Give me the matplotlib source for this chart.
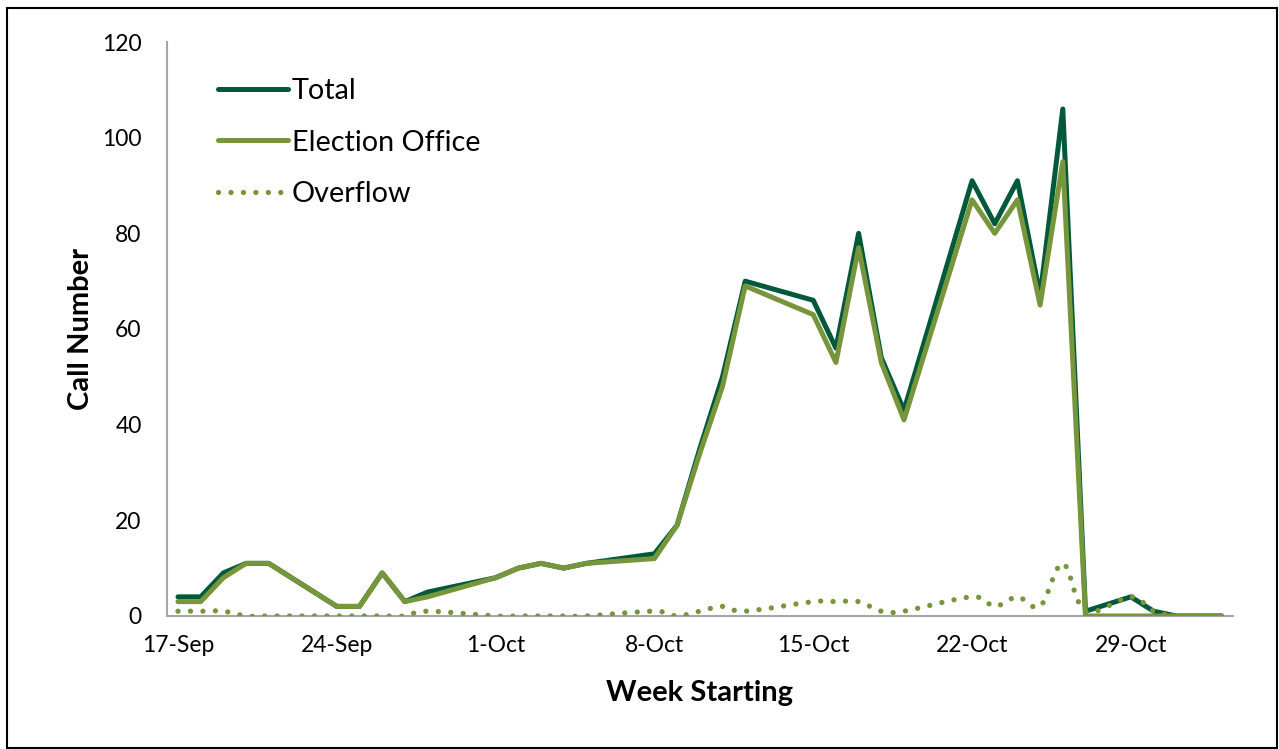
import numpy as np
import pandas as pd
import matplotlib
matplotlib.use("Agg")
import matplotlib.pyplot as plt
import matplotlib.dates as mdates
from matplotlib.path import Path
from matplotlib.patches import PathPatch, Rectangle
from matplotlib.lines import Line2D

# Daily call numbers (weekdays, plus 27-Oct)
dates = ["2018-09-17", "2018-09-18", "2018-09-19", "2018-09-20", "2018-09-21",
         "2018-09-24", "2018-09-25", "2018-09-26", "2018-09-27", "2018-09-28",
         "2018-10-01", "2018-10-02", "2018-10-03", "2018-10-04", "2018-10-05",
         "2018-10-08", "2018-10-09", "2018-10-10", "2018-10-11", "2018-10-12",
         "2018-10-15", "2018-10-16", "2018-10-17", "2018-10-18", "2018-10-19",
         "2018-10-22", "2018-10-23", "2018-10-24", "2018-10-25", "2018-10-26",
         "2018-10-27", "2018-10-29", "2018-10-30", "2018-10-31", "2018-11-01",
         "2018-11-02"]
total = [4, 4, 9, 11, 11,
         2, 2, 9, 3, 5,
         8, 10, 11, 10, 11,
         13, 19, 35, 50, 70,
         66, 56, 80, 54, 43,
         91, 82, 91, 67, 106,
         1, 4, 1, 0, 0,
         0]
election_office = [3, 3, 8, 11, 11,
                   2, 2, 9, 3, 4,
                   8, 10, 11, 10, 11,
                   12, 19, 34, 48, 69,
                   63, 53, 77, 53, 41,
                   87, 80, 87, 65, 95,
                   0, 0, 0, 0, 0,
                   0]
overflow = [1, 1, 1, 0, 0,
            0, 0, 0, 0, 1,
            0, 0, 0, 0, 0,
            1, 0, 1, 2, 1,
            3, 3, 3, 1, 1,
            4, 2, 4, 2, 11,
            1, 4, 1, 0, 0,
            0]
tick_dates = ["2018-09-17", "2018-09-24", "2018-10-01", "2018-10-08",
              "2018-10-15", "2018-10-22", "2018-10-29"]
tick_labels = ["17-Sep", "24-Sep", "1-Oct", "8-Oct", "15-Oct", "22-Oct", "29-Oct"]

dark_green = "#005A3A"
olive = "#77963C"
dots = (0, (0.01, 2.35))

plt.rcParams["font.family"] = ["Lato", "DejaVu Sans"]

fig = plt.figure(figsize=(12.79, 7.49), dpi=100)
ax = fig.add_axes([0.1303, 0.1776, 0.9640 - 0.1303, 0.9439 - 0.1776])

x = mdates.date2num(pd.to_datetime(dates))

ax.plot(x, total, color=dark_green, lw=3.6, solid_capstyle="round",
        solid_joinstyle="round", zorder=3)
ax.plot(x, election_office, color=olive, lw=3.6, solid_capstyle="round",
        solid_joinstyle="round", zorder=4)

# smoothed dotted line for overflow (Excel-style bezier smoothing)
y = np.array(overflow, dtype=float)
verts = [(x[0], y[0])]
codes = [Path.MOVETO]
n = len(x)
for i in range(n - 1):
    i0 = max(i - 1, 0)
    i3 = min(i + 2, n - 1)
    c1 = (x[i] + (x[i + 1] - x[i0]) / 6, y[i] + (y[i + 1] - y[i0]) / 6)
    c2 = (x[i + 1] - (x[i3] - x[i]) / 6, y[i + 1] - (y[i3] - y[i]) / 6)
    verts += [c1, c2, (x[i + 1], y[i + 1])]
    codes += [Path.CURVE4] * 3
patch = PathPatch(Path(verts, codes), fill=False, edgecolor=olive, lw=3.8,
                  linestyle=dots, capstyle="round", zorder=5)
ax.add_patch(patch)

x0 = mdates.date2num(pd.Timestamp("2018-09-17"))
ax.set_xlim(x0 - 0.5, x0 + 46.5)
ax.set_ylim(0, 120)
ax.set_yticks(range(0, 121, 20))
ax.set_xticks(mdates.date2num(pd.to_datetime(tick_dates)))
ax.set_xticklabels(tick_labels)
ax.tick_params(axis="both", length=0, labelsize=16.5, colors="black")
ax.tick_params(axis="x", pad=14)
ax.tick_params(axis="y", pad=18)

for side in ["top", "right"]:
    ax.spines[side].set_visible(False)
for side in ["left", "bottom"]:
    ax.spines[side].set_color("#A6A6A6")
    ax.spines[side].set_linewidth(1.5)

ax.set_xlabel("Week Starting", fontsize=21, fontweight="bold", labelpad=17)
ax.set_ylabel("Call Number", fontsize=21, fontweight="bold", labelpad=6)

handles = [Line2D([], [], color=dark_green, lw=3.6, solid_capstyle="round"),
           Line2D([], [], color=olive, lw=3.6, solid_capstyle="round"),
           Line2D([], [], color=olive, lw=3.8, linestyle=dots,
                  dash_capstyle="round")]
ax.legend(handles, ["Total", "Election Office", "Overflow"], loc="upper left",
          bbox_to_anchor=(0.0237, 0.983), frameon=False, fontsize=20.7,
          handlelength=2.43, handletextpad=0.15, labelspacing=0.9)

fig.add_artist(Rectangle((7 / 1279, 1 - 748 / 749), 1270 / 1279, 740 / 749,
                         transform=fig.transFigure, fill=False,
                         edgecolor="black", lw=1.5))

fig.savefig("out.png", dpi=100)
